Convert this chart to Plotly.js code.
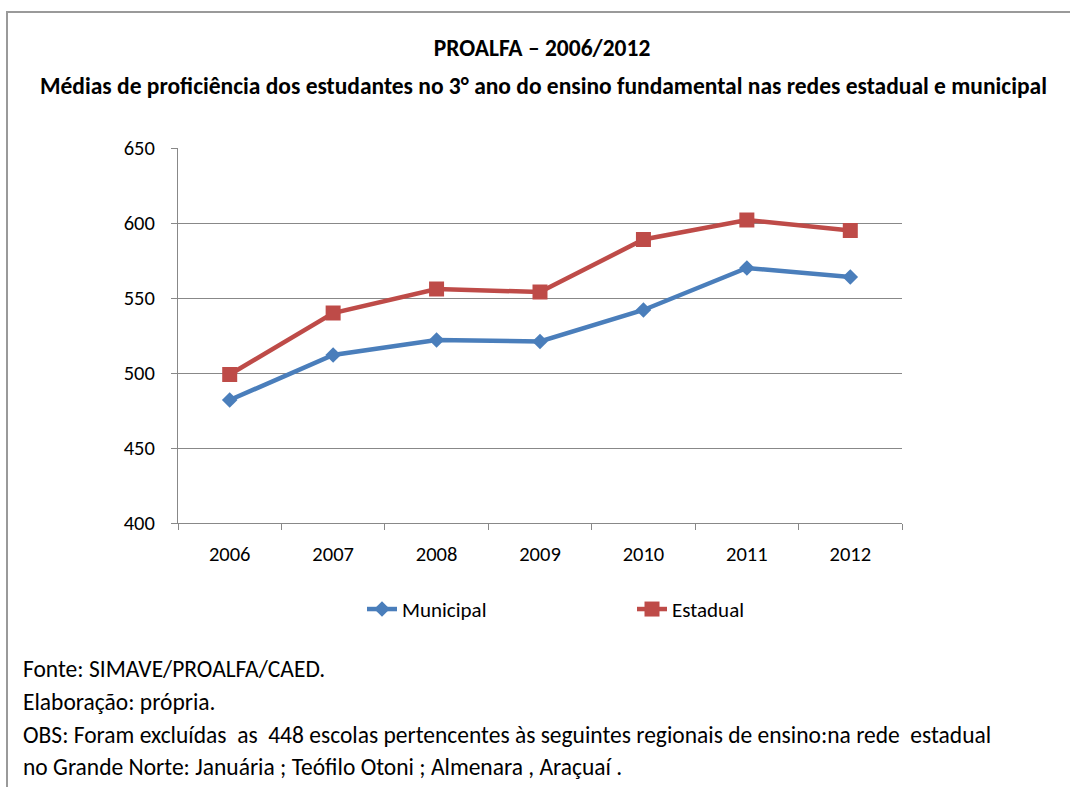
<!DOCTYPE html>
<html>
<head>
<meta charset="utf-8">
<script src="https://cdn.plot.ly/plotly-3.0.1.min.js"></script>
<style>
  html, body { margin: 0; padding: 0; background: #fff; }
  #wrap { position: relative; width: 1070px; height: 787px; overflow: hidden; }
  #chart { width: 1070px; height: 787px; }
  #frame { position: absolute; left: 6px; top: 11px; width: 1100px; height: 900px;
           border-left: 2px solid #9a9a9a; border-top: 2px solid #9a9a9a; pointer-events: none; }
</style>
</head>
<body>
<div id="wrap">
  <div id="chart"></div>
  <div id="frame"></div>
</div>
<script>
// ---- data ----
const years = ['2006', '2007', '2008', '2009', '2010', '2011', '2012'];
const municipal = [482, 512, 522, 521, 542, 570, 564];
const estadual = [499, 540, 556, 554, 589, 602, 595];
const yTicks = [400, 450, 500, 550, 600, 650];
const titleLine1 = 'PROALFA – 2006/2012';
const titleLine2 = 'Médias de proficiência dos estudantes no 3° ano do ensino fundamental nas redes estadual e municipal';
const footerLines = [
  'Fonte: SIMAVE/PROALFA/CAED.',
  'Elaboração: própria.',
  'OBS: Foram excluídas  as  448 escolas pertencentes às seguintes regionais de ensino:na rede  estadual',
  'no Grande Norte: Januária ; Teófilo Otoni ; Almenara , Araçuaí .'
];

// ---- layout helpers (pixel -> paper) ----
const W = 1070, H = 787;
const L = 178, R = 902, T = 148, B = 523.5;
const px = x => (x - L) / (R - L);
const py = y => (B - y) / (B - T);
const keepSpaces = s => s.replace(/  /g, ' \u00a0');

const FONT = 'Carlito, Calibri, Lato, sans-serif';
const gridCol = '#888888';

const traces = [
  {
    x: years, y: municipal, name: 'Municipal', type: 'scatter', mode: 'lines+markers',
    line: { color: '#4A7EBB', width: 4.5 },
    marker: { symbol: 'diamond', size: 12, color: '#4A7EBB' }
  },
  {
    x: years, y: estadual, name: 'Estadual', type: 'scatter', mode: 'lines+markers',
    line: { color: '#BE4B48', width: 4.5 },
    marker: { symbol: 'square', size: 15, color: '#BE4B48' }
  }
];

const footerY = [670, 703, 736, 768];
const annotations = [
  {
    text: '<b>' + titleLine2 + '</b>', xref: 'paper', yref: 'paper',
    x: px(543), y: py(86), xanchor: 'center', yanchor: 'middle', showarrow: false,
    font: { family: FONT, size: 23.5, color: '#000' }
  }
].concat(footerLines.map((t, i) => ({
  text: keepSpaces(t), xref: 'paper', yref: 'paper', x: px(21), y: py(footerY[i]),
  xanchor: 'left', yanchor: 'middle', showarrow: false,
  font: { family: FONT, size: 23.5, color: '#000' }
})));

const layout = {
  width: W, height: H,
  margin: { l: L, r: W - R, t: T, b: H - B },
  paper_bgcolor: '#fff', plot_bgcolor: '#fff',
  font: { family: FONT, size: 20.5, color: '#000' },
  title: {
    text: '<b>' + titleLine1 + '</b>',
    x: 542 / W, xanchor: 'center', y: 1 - 48 / H, yanchor: 'middle', yref: 'container',
    font: { family: FONT, size: 23.5, color: '#000' }
  },
  xaxis: {
    type: 'category', range: [-0.5, 6.5], tickson: 'boundaries',
    ticks: 'outside', ticklen: 6, tickcolor: gridCol, tickwidth: 1,
    showline: true, linecolor: gridCol, linewidth: 1, showgrid: false, zeroline: false,
    ticklabelstandoff: 12,
    tickfont: { family: FONT, size: 20.5, color: '#000' }, fixedrange: true
  },
  yaxis: {
    range: [400, 650], tickvals: yTicks, ticktext: yTicks.map(String),
    ticks: 'outside', ticklen: 6, tickcolor: gridCol, tickwidth: 1,
    showline: true, linecolor: gridCol, linewidth: 1,
    showgrid: true, gridcolor: gridCol, gridwidth: 1, zeroline: false,
    ticklabelstandoff: 12,
    tickfont: { family: FONT, size: 20.5, color: '#000' }, fixedrange: true
  },
  showlegend: true,
  legend: {
    orientation: 'h', x: px(362), xanchor: 'left', y: py(610), yanchor: 'middle',
    font: { family: FONT, size: 21, color: '#000' },
    entrywidth: 225, entrywidthmode: 'pixels', bgcolor: 'rgba(0,0,0,0)'
  },
  annotations: annotations
};

Plotly.newPlot('chart', traces, layout, { displayModeBar: false, staticPlot: true });
</script>
</body>
</html>
